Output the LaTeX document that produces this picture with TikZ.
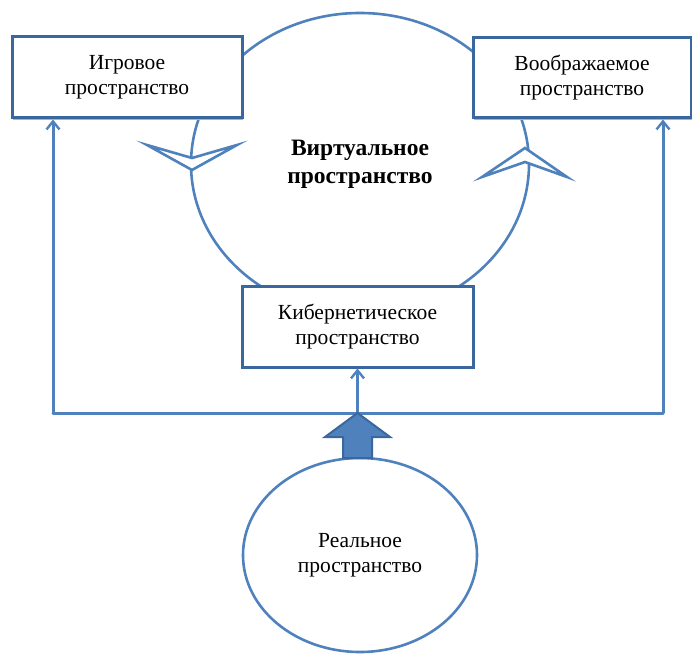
\documentclass[tikz,border=0pt]{standalone}
\usepackage{fontspec}
\setmainfont{Liberation Serif}
\usetikzlibrary{arrows.meta,shapes.geometric,shadows}
\definecolor{ln}{HTML}{4F81BD}
\definecolor{bd}{HTML}{3A679E}
\tikzset{
  box/.style={draw=bd, line width=3pt, fill=white, align=center,
    font=\fontsize{21.5}{25}\selectfont,
    drop shadow={shadow xshift=1.2pt, shadow yshift=-1.8pt, fill=gray!60, opacity=1}},
  oval/.style={ellipse, draw=ln, line width=2.6pt, align=center, inner sep=0pt},
  conn/.style={draw=ln, line width=3pt},
  tip/.style={-{Straight Barb[length=8pt,width=13pt,line width=2.4pt]}},
  openhead/.style={draw=ln, line width=2.6pt, fill=white, line join=miter}
}
\begin{document}
\begin{tikzpicture}[x=1pt,y=-1pt]
\useasboundingbox (0,0) rectangle (692,655);
% virtual space
\node[oval, minimum width=338pt, minimum height=302pt,
  font=\fontsize{23.5}{28}\selectfont\bfseries] (virt) at (360,164)
  {Виртуальное\\пространство};
% open arrowheads on the big oval
\draw[openhead] (147,145) -- (192,170) -- (237,145) -- (192,158) -- cycle;
\draw[openhead] (482,177) -- (525,148) -- (567,177) -- (525,162) -- cycle;
% boxes
\node[box, minimum width=230pt, minimum height=81pt] (game) at (127,77.5) {Игровое\\пространство};
\node[box, minimum width=218pt, minimum height=80pt] (imag) at (582,78) {Воображаемое\\пространство};
\node[box, minimum width=231pt, minimum height=81pt] (cyber) at (357.5,326.5) {Кибернетическое\\пространство};
% real space
\node[oval, minimum width=234pt, minimum height=194pt,
  font=\fontsize{21.5}{25}\selectfont] (real) at (360,555) {Реальное\\пространство};
% bus
\coordinate (bl) at (53,413);
\coordinate (br) at (663,413);
\coordinate (bm) at (357.5,413);
\draw[conn, line cap=round] (bl) -- (br);
\draw[conn, tip] (bl) -- (bl |- game.south);
\draw[conn, tip] (br) -- (br |- imag.south);
\draw[conn, tip] (bm) -- (cyber.south);
% block arrow
\draw[draw=bd, fill=ln, line width=2pt, line join=miter]
  (343,458) -- (343,437) -- (325,437) -- (bm) -- (390,437) -- (372,437) -- (372,458) -- cycle;
\end{tikzpicture}
\end{document}
